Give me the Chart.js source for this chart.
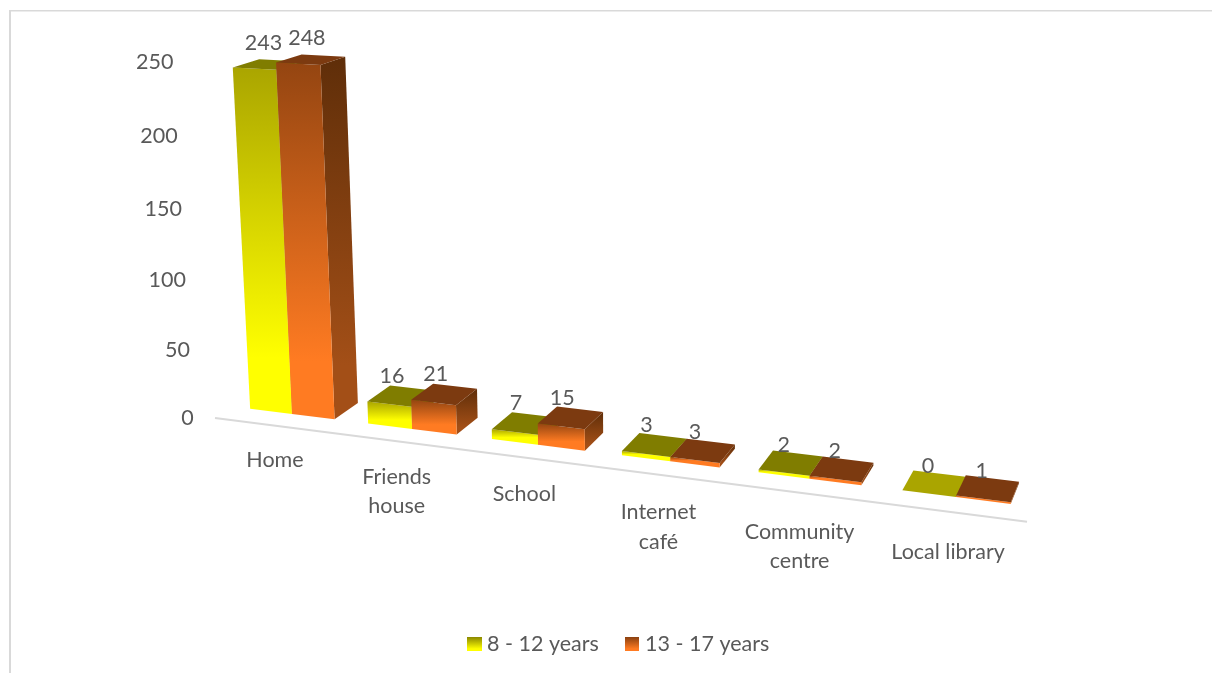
<!DOCTYPE html>
<html>
<head>
<meta charset="utf-8">
<title>Places of internet use by age group</title>
<script src="https://cdn.jsdelivr.net/npm/chart.js@4/dist/chart.umd.js"></script>
<style>
  html, body { margin: 0; padding: 0; background: #fff; }
  canvas { display: block; }
</style>
</head>
<body>
<canvas id="chart" width="1212" height="673"></canvas>
<script>
const categories = ['Home', ['Friends', 'house'], 'School', ['Internet', 'café'], ['Community', 'centre'], 'Local library'];
const youngerLabel = '8 - 12 years';
const olderLabel = '13 - 17 years';
const youngerValues = [243, 16, 7, 3, 2, 0];
const olderValues = [248, 21, 15, 3, 2, 1];

const TEXT = '#595959';
const FONT = '21.5px Lato';
const FRAME = '#d9d9d9';

const youngerFaces = { frontTop: '#aaa500', frontBase: '#ffff00', sideTop: '#7f7c00', sideBase: '#b0ab00', top: '#807d00' };
const olderFaces = { frontTop: '#944511', frontBase: '#ff7b22', sideTop: '#5f2e09', sideBase: '#a34f17', top: '#7c3a10' };

// Camera for the 3D look: s = category position, h = share of the value axis, d = depth 0..1
const camera = { x0: 292, y0: 414, sx: 110.4, sy: 4.96, hx: -28.5, hy: -357.2, dx: 31.7, dy: -6.4, ws: -0.02344, wh: -0.045, wd: 0.024 };

function project(s, h, d, shift) {
  const c = shift ? Object.assign({}, camera, shift) : camera;
  const w = 1 + c.ws * s + c.wh * h + c.wd * d;
  return {
    x: (c.x0 + c.sx * s + c.hx * h + c.dx * d) / w,
    y: (c.y0 + c.sy * s + c.hy * h + c.dy * d) / w
  };
}

// Flat chart-area pixels to camera coordinates
function toS(chart, px) {
  const x = chart.scales.x;
  return (px - x.getPixelForValue(0)) / (x.getPixelForValue(1) - x.getPixelForValue(0));
}
function toH(chart, py) {
  const y = chart.scales.y;
  return (y.getPixelForValue(0) - py) / (y.getPixelForValue(0) - y.getPixelForValue(y.max));
}

function polygon(ctx, pts, fill) {
  ctx.beginPath();
  pts.forEach((p, i) => (i ? ctx.lineTo(p.x, p.y) : ctx.moveTo(p.x, p.y)));
  ctx.closePath();
  ctx.fillStyle = fill;
  ctx.fill();
}

function verticalFill(ctx, y0, y1, from, to) {
  const g = ctx.createLinearGradient(0, y0, 0, Math.max(y1, y0 + 1));
  g.addColorStop(0, from);
  g.addColorStop(0.85, to);
  g.addColorStop(1, to);
  return g;
}

// Each bar element paints as a box seen through the camera
Chart.BarElement.prototype.draw = function (ctx) {
  const { chart, faces } = this.scene;
  const sL = toS(chart, this.x - this.width / 2);
  const sR = toS(chart, this.x + this.width / 2);
  const h = toH(chart, this.y);
  const fBL = project(sL, 0, 0), fBR = project(sR, 0, 0);
  const fTL = project(sL, h, 0), fTR = project(sR, h, 0);
  const bTL = project(sL, h, 1), bTR = project(sR, h, 1), bBR = project(sR, 0, 1);
  ctx.save();
  polygon(ctx, [fTR, bTR, bBR, fBR], verticalFill(ctx, bTR.y, fBR.y, faces.sideTop, faces.sideBase));
  polygon(ctx, [fTL, fTR, fBR, fBL], verticalFill(ctx, fTL.y, fBL.y, faces.frontTop, faces.frontBase));
  polygon(ctx, [fTL, bTL, bTR, fTR], h > 0 ? faces.top : faces.frontTop);
  ctx.restore();
};

const perspectivePlugin = {
  id: 'perspective',
  beforeDraw(chart) {
    const ctx = chart.ctx;
    ctx.save();
    ctx.fillStyle = '#fff';
    ctx.fillRect(0, 0, chart.width, chart.height);
    ctx.fillStyle = FRAME;
    ctx.fillRect(9, 10, chart.width - 9, 1.5);
    ctx.fillRect(9, 10, 2, chart.height - 10);
    const a = project(-0.667, 0, 0, { y0: 427.8 });
    const b = project(5.466, 0, 0, { y0: 427.8 });
    ctx.strokeStyle = FRAME;
    ctx.lineWidth = 2;
    ctx.beginPath();
    ctx.moveTo(a.x, a.y);
    ctx.lineTo(b.x, b.y);
    ctx.stroke();
    ctx.restore();
  },
  // Series are painted in reading order so the older group overlaps the younger one
  beforeDatasetsDraw(chart) {
    chart.getSortedVisibleDatasetMetas().forEach(m => {
      const faces = chart.data.datasets[m.index].faces;
      m.data.forEach(el => { el.scene = { chart, faces }; });
      m.controller.draw();
    });
    return false;
  },
  afterDraw(chart) {
    const ctx = chart.ctx;
    ctx.save();
    ctx.font = FONT;
    ctx.fillStyle = TEXT;
    ctx.textBaseline = 'middle';

    // Value axis labels
    ctx.textAlign = 'right';
    chart.scales.y.ticks.forEach(t => {
      const h = toH(chart, chart.scales.y.getPixelForValue(t.value));
      const p = project(-0.85, h, 0, { y0: 431, hy: -365.9 });
      ctx.fillText(t.label, p.x - 0.5, p.y);
    });

    // Category labels
    ctx.textAlign = 'center';
    chart.scales.x.getLabels().forEach((label, i) => {
      const p = project(i, 0, 0, { x0: 275, sx: 112.4, y0: 460, sy: 5.46 });
      [].concat(label).forEach((line, k) => ctx.fillText(line, p.x, p.y + k * 29.5));
    });

    // Value labels above each box, drifting slightly with distance along the axis
    chart.getSortedVisibleDatasetMetas().forEach(meta => {
      const values = chart.data.datasets[meta.index].data;
      meta.data.forEach((el, i) => {
        const h = toH(chart, el.y);
        const s = toS(chart, el.x);
        const p = project(s, h, 0.5);
        const drift = Math.max(0, s - 2);
        ctx.fillText(String(values[i]), p.x - 9 + 5 * h + 0.9 * drift, p.y - 20 - 1.5 * h + 0.9 * drift);
      });
    });

    // Legend
    ctx.textAlign = 'left';
    const lx = [467, 625];
    chart.data.datasets.forEach((ds, i) => {
      ctx.fillStyle = verticalFill(ctx, 637, 651, i ? '#8a4010' : '#8a8700', ds.faces.frontBase);
      ctx.fillRect(lx[i], 637, i ? 14 : 15, 14);
      ctx.fillStyle = TEXT;
      ctx.fillText(ds.label, lx[i] + 20, 644);
    });
    ctx.restore();
  }
};

new Chart(document.getElementById('chart'), {
  type: 'bar',
  data: {
    labels: categories,
    datasets: [
      { label: youngerLabel, data: youngerValues, faces: youngerFaces, backgroundColor: youngerFaces.frontBase, clip: false },
      { label: olderLabel, data: olderValues, faces: olderFaces, backgroundColor: olderFaces.frontBase, clip: false }
    ]
  },
  options: {
    responsive: false,
    animation: false,
    layout: { padding: { left: 215, right: 185, top: 62, bottom: 255 } },
    datasets: { bar: { categoryPercentage: 0.72, barPercentage: 1 } },
    plugins: { legend: { display: false }, tooltip: { enabled: false } },
    scales: {
      x: { grid: { display: false }, border: { display: false }, ticks: { display: false } },
      y: { min: 0, max: 250, grid: { display: false }, border: { display: false }, ticks: { display: false, stepSize: 50 } }
    }
  },
  plugins: [perspectivePlugin]
});
</script>
</body>
</html>
